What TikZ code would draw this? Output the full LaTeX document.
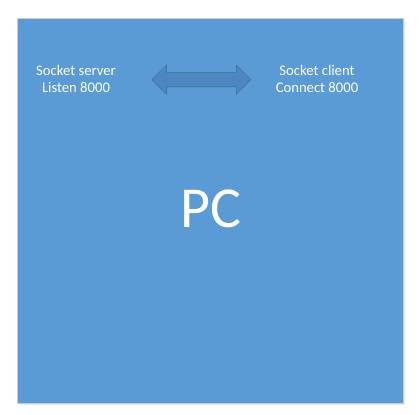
\documentclass[tikz,border=0pt]{standalone}
\usepackage{fontspec}
\setmainfont{Carlito}
\definecolor{pcblue}{HTML}{5B9BD5}
\definecolor{pcedge}{HTML}{C9CDD2}
\definecolor{arrfill}{HTML}{4E87BF}
\definecolor{arredge}{HTML}{41719C}
\begin{document}
\begin{tikzpicture}[x=1pt,y=-1pt,
  lbl/.style={text=white,font=\fontsize{14.67}{17.6}\selectfont,inner sep=0pt,anchor=base},
  big/.style={text=white,font=\fontsize{58}{70}\selectfont,inner sep=0pt,anchor=base},
  pcbox/.style={fill=pcblue,draw=pcedge,line width=0.8pt}]
\useasboundingbox (0,0) rectangle (419,414);
\fill[pcedge!40] (18.5,19.5) rectangle (404.5,405);
\draw[pcbox] (17,18) rectangle (403,403);
\coordinate (boxc) at (210,210.5);
\node[lbl] (s1) at (76,75.7) {Socket server};
\node[lbl] (s2) at (76,92.3) {Listen 8000};
\node[lbl] (c1) at (317,75.7) {Socket client};
\node[lbl] (c2) at (317,92.3) {Connect 8000};
\node[big] (pc) at (211,227.3) {PC};
\draw[fill=arrfill,draw=arredge,line width=0.6pt,line join=miter]
  (152,79.6) -- (166.5,65) -- (166.5,72.4) -- (236.3,72.4) -- (236.3,65)
  -- (250.8,79.6) -- (236.3,94.2) -- (236.3,86.8) -- (166.5,86.8)
  -- (166.5,94.2) -- cycle;
\end{tikzpicture}
\end{document}
